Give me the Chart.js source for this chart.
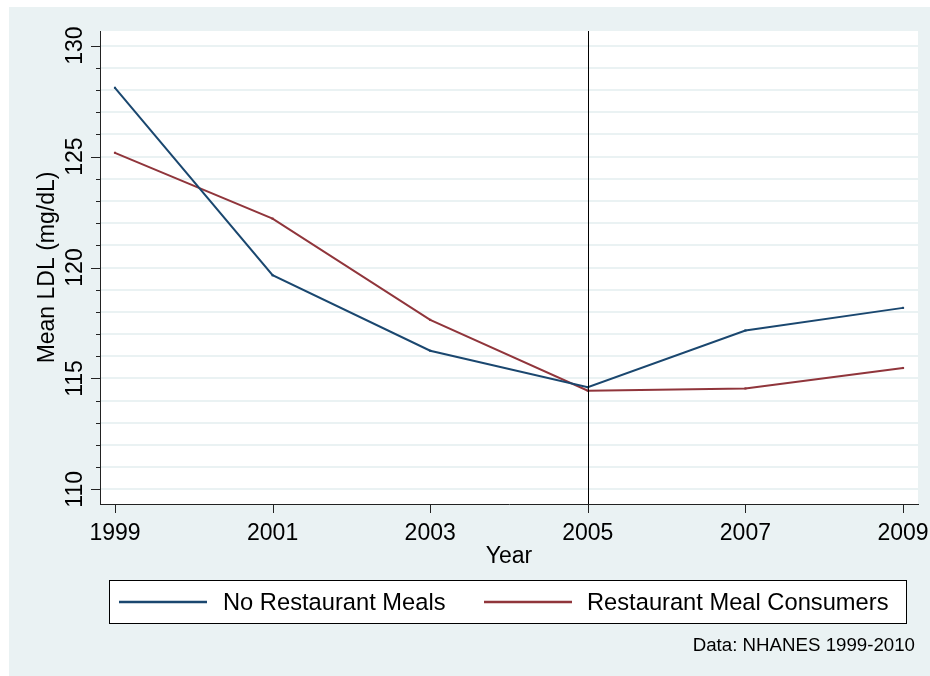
<!DOCTYPE html>
<html>
<head>
<meta charset="utf-8">
<script src="https://cdn.jsdelivr.net/npm/chart.js@4.4.1/dist/chart.umd.min.js"></script>
<style>
html,body{margin:0;padding:0;background:#fff;}
#wrap{width:930px;height:676px;position:relative;}
</style>
</head>
<body>
<div id="wrap"><canvas id="c" width="930" height="676"></canvas></div>
<script>
// ---- data ----
const years = [1999, 2001, 2003, 2005, 2007, 2009];
const noRestaurant = [128.1, 119.65, 116.25, 114.6, 117.16, 118.18];
const restaurant = [125.17, 122.2, 117.64, 114.45, 114.55, 115.47];
const seriesNames = ['No Restaurant Meals', 'Restaurant Meal Consumers'];
const yTickLabels = [110, 115, 120, 125, 130];
const xTitle = 'Year';
const yTitle = 'Mean LDL (mg/dL)';
const note = 'Data: NHANES 1999-2010';
const markerYear = 2005;

const NAVY = '#1a476f', MAROON = '#90353b', BG = '#eaf2f3', GRID = '#eaf2f3';
const FONT = '"Liberation Sans", Arial, sans-serif';

const decor = {
  id: 'decor',
  beforeDraw(chart) {
    const ctx = chart.ctx, a = chart.chartArea;
    ctx.save();
    ctx.fillStyle = '#fff';
    ctx.fillRect(0, 0, chart.width, chart.height);
    ctx.fillStyle = BG;
    ctx.fillRect(9, 7, chart.width - 9, chart.height - 7);
    ctx.fillStyle = '#fff';
    ctx.fillRect(a.left, a.top, a.right - a.left, a.bottom - a.top);
    ctx.restore();
  },
  afterDatasetsDraw(chart) {
    const ctx = chart.ctx, a = chart.chartArea;
    const xs = chart.scales.x;
    ctx.save();
    const vx = Math.round(xs.getPixelForValue(markerYear)) + 0.5;
    ctx.strokeStyle = '#000';
    ctx.lineWidth = 1;
    ctx.beginPath(); ctx.moveTo(vx, a.top); ctx.lineTo(vx, a.bottom); ctx.stroke();
    ctx.restore();
  },
  afterDraw(chart) {
    const ctx = chart.ctx, a = chart.chartArea;
    const xs = chart.scales.x, ys = chart.scales.y;
    ctx.save();
    ctx.strokeStyle = '#222';
    ctx.lineWidth = 1;
    for (let v = Math.ceil(ys.min); v <= Math.floor(ys.max); v++) {
      const py = Math.round(ys.getPixelForValue(v)) + 0.5;
      const len = (v % 5 === 0) ? 9 : 4;
      ctx.beginPath(); ctx.moveTo(a.left - len, py); ctx.lineTo(a.left, py); ctx.stroke();
    }
    years.forEach(y => {
      const px = Math.round(xs.getPixelForValue(y)) + 0.5;
      ctx.beginPath(); ctx.moveTo(px, a.bottom); ctx.lineTo(px, a.bottom + 9); ctx.stroke();
    });
    ctx.fillStyle = '#000';
    ctx.font = '23px ' + FONT;
    ctx.textAlign = 'center';
    ctx.textBaseline = 'alphabetic';
    years.forEach(y => {
      ctx.fillText(String(y), xs.getPixelForValue(y), 540);
    });
    yTickLabels.forEach(v => {
      const py = ys.getPixelForValue(v);
      ctx.save();
      ctx.translate(82, py);
      ctx.rotate(-Math.PI / 2);
      ctx.fillText(String(v), 0, 0);
      ctx.restore();
    });
    ctx.fillText(xTitle, (a.left + a.right) / 2, 563);
    ctx.save();
    ctx.translate(54, (a.top + a.bottom) / 2);
    ctx.rotate(-Math.PI / 2);
    ctx.fillText(yTitle, 0, 0);
    ctx.restore();
    // legend
    ctx.fillStyle = '#fff';
    ctx.fillRect(109.5, 580.5, 797, 43);
    ctx.strokeStyle = '#000';
    ctx.strokeRect(109.5, 580.5, 797, 43);
    const items = [
      {x1: 119, x2: 207, tx: 223},
      {x1: 484, x2: 572, tx: 587}
    ];
    chart.data.datasets.forEach((ds, i) => {
      const it = items[i];
      ctx.strokeStyle = ds.borderColor;
      ctx.lineWidth = 2.6;
      ctx.beginPath(); ctx.moveTo(it.x1, 602); ctx.lineTo(it.x2, 602); ctx.stroke();
      ctx.fillStyle = '#000';
      ctx.textAlign = 'left';
      ctx.textBaseline = 'middle';
      ctx.font = '23.7px ' + FONT;
      ctx.fillText(ds.label, it.tx, 603);
    });
    ctx.font = '18.7px ' + FONT;
    ctx.textAlign = 'right';
    ctx.textBaseline = 'middle';
    ctx.fillStyle = '#000';
    ctx.fillText(note, 915, 646);
    ctx.restore();
  }
};

const toPts = arr => years.map((y, i) => ({x: y, y: arr[i]}));

new Chart(document.getElementById('c'), {
  type: 'line',
  data: {
    datasets: [
      {label: seriesNames[0], data: toPts(noRestaurant), borderColor: NAVY, backgroundColor: NAVY,
       borderWidth: 2, pointStyle: 'rect', pointRadius: 1.5, pointBorderWidth: 0, tension: 0},
      {label: seriesNames[1], data: toPts(restaurant), borderColor: MAROON, backgroundColor: MAROON,
       borderWidth: 2, pointStyle: 'rect', pointRadius: 1.5, pointBorderWidth: 0, tension: 0}
    ]
  },
  options: {
    responsive: false,
    animation: false,
    devicePixelRatio: 1,
    layout: {padding: {left: 100, top: 31, right: 12, bottom: 172}},
    plugins: {legend: {display: false}, tooltip: {enabled: false}},
    scales: {
      x: {
        type: 'linear', min: 1998.81, max: 2009.19,
        afterBuildTicks: s => { s.ticks = years.map(v => ({value: v})); },
        afterFit: s => { s.height = 0; },
        ticks: {display: false},
        grid: {display: false, drawTicks: false},
        border: {display: true, color: '#222', width: 1}
      },
      y: {
        type: 'linear', min: 109.34, max: 130.66,
        afterBuildTicks: s => {
          const t = [];
          for (let v = 110; v <= 130; v++) t.push({value: v});
          s.ticks = t;
        },
        afterFit: s => { s.width = 0; },
        ticks: {display: false},
        grid: {color: GRID, lineWidth: 2, drawTicks: false},
        border: {display: true, color: '#222', width: 1}
      }
    }
  },
  plugins: [decor]
});
</script>
</body>
</html>
